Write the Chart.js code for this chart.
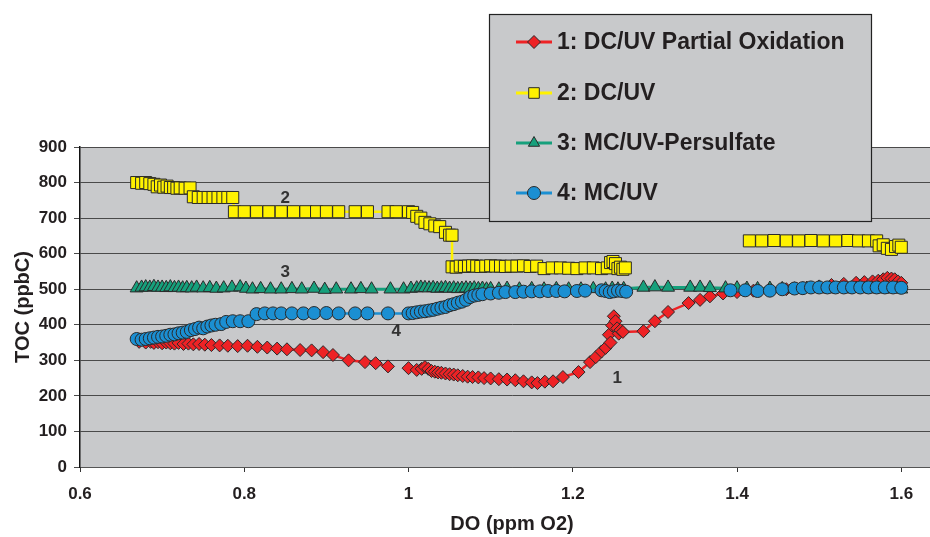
<!DOCTYPE html>
<html lang="en">
<head>
<meta charset="UTF-8">
<title>TOC vs DO</title>
<script src="https://cdn.jsdelivr.net/npm/chart.js"></script>
<style>
  html, body { margin: 0; padding: 0; overflow: hidden; background: #fff; }
</style>
</head>
<body>
<canvas id="chart" width="944" height="537"></canvas>
<script>
// series names (legend)
const seriesNames = ['1: DC/UV Partial Oxidation', '2: DC/UV', '3: MC/UV-Persulfate', '4: MC/UV'];

// 1: DC/UV Partial Oxidation (red diamonds)
const s1x = [0.672,0.680,0.686,0.690,0.695,0.700,0.705,0.710,0.715,0.720,
  0.726,0.732,0.738,0.745,0.752,0.760,0.770,0.780,0.792,0.804,
  0.816,0.828,0.840,0.852,0.868,0.882,0.896,0.908,0.927,0.947,
  0.960,0.975,0.988,1.000,1.010,1.016,1.020,1.024,1.028,1.032,
  1.036,1.040,1.045,1.050,1.055,1.060,1.066,1.072,1.078,1.085,
  1.092,1.100,1.110,1.120,1.130,1.140,1.150,1.157,1.166,1.176,
  1.188,1.207,1.221,1.228,1.235,1.240,1.244,1.246,1.248,1.250,
  1.252,1.254,1.256,1.258,1.261,1.286,1.300,1.316,1.341,1.355,
  1.367,1.383,1.400,1.420,1.440,1.460,1.480,1.500,1.515,1.530,
  1.545,1.555,1.565,1.572,1.578,1.583,1.588,1.592,1.596,1.600];
const s1y = [352,350,352,349,351,348,350,348,347,349,
  346,347,345,346,344,343,342,341,340,341,
  338,336,333,331,329,328,323,315,300,295,
  292,283,null,278,273,276,281,276,270,268,
  266,265,263,261,260,258,256,254,253,252,
  250,249,247,246,244,241,238,236,240,241,
  253,267,295,309,325,335,372,350,398,424,
  410,390,375,385,380,382,410,436,461,470,
  480,488,492,496,498,500,503,508,512,515,
  518,520,522,524,528,532,530,528,522,518];

// 2: DC/UV (yellow squares)
const s2x = [0.669,0.675,0.680,0.685,0.690,0.694,0.698,0.702,0.706,0.710,
  0.714,0.718,0.722,0.728,0.734,0.738,0.744,0.750,0.756,0.762,
  0.768,0.774,0.780,0.786,0.788,0.800,0.815,0.830,0.845,0.860,
  0.875,0.888,0.900,0.915,0.935,0.950,0.975,0.985,1.000,1.005,
  1.010,1.015,1.020,1.026,1.032,1.038,1.045,1.050,1.053,1.053,
  1.058,1.063,1.068,1.073,1.078,1.083,1.088,1.094,1.100,1.106,
  1.112,1.118,1.125,1.132,1.140,1.148,1.156,1.165,1.175,1.185,
  1.195,1.205,1.215,1.225,1.235,1.242,1.246,1.249,1.252,1.255,
  1.258,1.261,1.264,1.264,1.415,1.430,1.445,1.460,1.475,1.490,
  1.505,1.520,1.535,1.548,1.560,1.570,1.573,1.578,1.583,1.588,
  1.593,1.597,1.600];
const s2y = [800,798,800,797,795,788,793,787,790,786,
  786,784,785,784,785,760,758,758,758,758,
  758,758,758,758,718,718,718,718,718,718,
  718,718,718,718,718,718,718,718,718,716,
  705,700,688,684,678,676,660,652,652,563,
  562,565,564,565,566,565,564,565,566,565,
  565,564,565,565,566,564,565,558,560,560,
  559,558,560,560,558,560,575,578,572,558,
  562,556,560,null,636,636,637,636,636,637,
  636,636,637,636,636,636,622,625,615,612,
  620,624,618];

// 3: MC/UV-Persulfate (teal triangles)
const s3x = [0.669,0.675,0.680,0.685,0.690,0.695,0.700,0.705,0.710,0.715,
  0.720,0.725,0.730,0.736,0.742,0.750,0.758,0.766,0.775,0.785,
  0.795,0.802,0.810,0.820,0.832,0.845,0.858,0.870,0.885,0.898,
  0.912,0.930,0.942,0.955,0.978,0.994,1.003,1.010,1.015,1.020,
  1.025,1.030,1.035,1.040,1.045,1.050,1.055,1.060,1.065,1.070,
  1.075,1.080,1.085,1.090,1.095,1.100,1.110,1.120,1.135,1.150,
  1.165,1.180,1.195,1.210,1.225,1.240,1.248,1.255,1.262,1.286,
  1.300,1.316,1.343,1.355,1.367,1.386,1.400,1.412,1.425,1.440,
  1.455,1.470,1.485,1.500,1.512,1.524,1.535,1.545,1.555,1.563,
  1.570,1.577,1.584,1.590,1.595,1.600];
const s3y = [503,505,506,505,507,505,505,504,506,504,
  505,503,504,503,505,503,504,502,503,505,
  506,502,500,501,500,500,501,500,502,499,
  500,500,501,500,500,500,502,503,505,504,
  503,504,502,503,504,502,503,501,502,503,
  502,503,501,502,500,501,500,502,500,501,
  500,501,500,500,501,500,502,500,501,505,
  506,505,505,505,504,503,503,502,501,502,
  501,500,502,501,500,501,500,502,501,500,
  501,500,501,500,502,500];

// 4: MC/UV (blue circles)
const s4x = [0.669,0.675,0.680,0.685,0.690,0.695,0.700,0.705,0.710,0.715,
  0.720,0.725,0.730,0.735,0.740,0.745,0.750,0.755,0.760,0.765,
  0.772,0.778,0.786,0.795,0.805,0.815,0.825,0.835,0.845,0.858,
  0.872,0.885,0.900,0.915,0.935,0.950,0.975,1.000,1.005,1.010,
  1.015,1.020,1.025,1.030,1.035,1.040,1.045,1.050,1.055,1.060,
  1.065,1.070,1.075,1.080,1.085,1.090,1.100,1.110,1.118,1.130,
  1.140,1.150,1.160,1.170,1.180,1.190,1.205,1.215,1.235,1.240,
  1.245,1.250,1.255,1.260,1.265,1.265,1.392,1.410,1.425,1.440,
  1.455,1.470,1.480,1.490,1.500,1.510,1.520,1.530,1.540,1.550,
  1.560,1.570,1.580,1.590,1.600];
const s4y = [360,358,360,362,364,366,367,369,372,373,
  376,378,380,385,388,392,390,395,398,400,
  402,408,410,410,410,430,432,432,432,432,
  432,433,433,432,432,432,432,432,433,435,
  437,438,440,442,445,448,450,455,458,462,
  465,470,478,482,484,486,488,490,492,492,
  493,494,494,495,495,494,495,496,497,495,
  492,494,496,495,493,null,497,497,495,496,
  500,502,503,505,505,505,505,505,505,505,
  505,505,505,505,504];

// curve number labels inside the plot
const curveLabels = ['1', '2', '3', '4'];
const curveLabelX = [1.254, 0.85, 0.85, 0.985];
const curveLabelY = [250, 757, 548, 382];

const xTicks = [0.6, 0.8, 1, 1.2, 1.4, 1.6];

function toPoints(xs, ys) {
  return xs.map((x, i) => ({ x: x, y: ys[i] }));
}

const FONT = '"Liberation Sans", Arial, sans-serif';
const TEXT = '#231f20';

const styles = [
  { color: '#ee2225', shape: 'rectRot', r: 6.5 },
  { color: '#fff200', shape: 'rect', r: 8.5 },
  { color: '#16a07c', shape: 'triangle', r: 7.5 },
  { color: '#1b8fd2', shape: 'circle', r: 6.5 }
];

const allX = [s1x, s2x, s3x, s4x];
const allY = [s1y, s2y, s3y, s4y];

const datasets = seriesNames.map((name, i) => ({
  label: name,
  data: toPoints(allX[i], allY[i]),
  showLine: true,
  spanGaps: false,
  borderColor: styles[i].color,
  backgroundColor: styles[i].color,
  borderWidth: i === 2 ? 3 : 2.5,
  pointStyle: styles[i].shape,
  pointRadius: styles[i].r,
  pointBackgroundColor: styles[i].color,
  pointBorderColor: '#2a2a2a',
  pointBorderWidth: 1,
  order: 4 - i
}));

const plotBg = {
  id: 'plotBg',
  beforeDraw(chart) {
    const { ctx, chartArea: a } = chart;
    ctx.save();
    ctx.fillStyle = '#c8c9cb';
    ctx.fillRect(a.left, a.top, a.right - a.left, a.bottom - a.top);
    ctx.restore();
  }
};

const curveText = {
  id: 'curveText',
  afterDatasetsDraw(chart) {
    const { ctx, scales: { x, y } } = chart;
    ctx.save();
    ctx.font = 'bold 17px ' + FONT;
    ctx.fillStyle = '#333';
    ctx.textAlign = 'center';
    ctx.textBaseline = 'middle';
    curveLabels.forEach((t, i) => {
      ctx.fillText(t, x.getPixelForValue(curveLabelX[i]), y.getPixelForValue(curveLabelY[i]));
    });
    ctx.restore();
  }
};

// boxed legend sitting over the top right of the plot
const boxLegend = {
  id: 'boxLegend',
  afterDraw(chart) {
    const ctx = chart.ctx;
    ctx.save();
    ctx.fillStyle = '#c8c9cb';
    ctx.fillRect(489.5, 14.5, 382, 207);
    ctx.strokeStyle = '#222';
    ctx.lineWidth = 1.2;
    ctx.strokeRect(489.5, 14.5, 382, 207);
    const rows = [42, 93, 143, 193];
    chart.data.datasets.forEach((ds, i) => {
      const yy = rows[i];
      ctx.strokeStyle = ds.borderColor;
      ctx.lineWidth = 3;
      ctx.beginPath();
      ctx.moveTo(516, yy);
      ctx.lineTo(552, yy);
      ctx.stroke();
      ctx.fillStyle = ds.pointBackgroundColor;
      ctx.strokeStyle = '#2a2a2a';
      ctx.lineWidth = 1;
      Chart.helpers.drawPoint(ctx, {
        pointStyle: ds.pointStyle,
        radius: ds.pointStyle === 'rect' ? 7.5 : 6.5,
        rotation: 0,
        borderWidth: 1
      }, 534, yy);
      ctx.fillStyle = TEXT;
      ctx.font = 'bold 23px ' + FONT;
      ctx.textAlign = 'left';
      ctx.textBaseline = 'middle';
      ctx.fillText(ds.label, 557, yy + 1);
    });
    ctx.restore();
  }
};

new Chart(document.getElementById('chart'), {
  type: 'scatter',
  data: { datasets: datasets },
  options: {
    responsive: false,
    animation: false,
    layout: { autoPadding: false, padding: { top: 147, right: 0, left: 0, bottom: 0 } },
    plugins: {
      legend: { display: false },
      tooltip: { enabled: false }
    },
    scales: {
      x: {
        type: 'linear',
        min: 0.6,
        max: 1.652,
        afterBuildTicks: (scale) => { scale.ticks = xTicks.map(v => ({ value: v })); },
        afterFit: (scale) => {
          scale.height = 70;
          scale.paddingLeft = 0;
          scale.paddingRight = 0;
        },
        grid: { drawOnChartArea: false, drawTicks: true, tickLength: 5, color: '#333' },
        border: { color: '#555', width: 1 },
        ticks: {
          padding: 12,
          color: TEXT,
          font: { family: FONT, size: 17, weight: 'bold' },
          callback: (v) => String(v)
        },
        title: {
          display: true,
          text: 'DO (ppm O2)',
          color: TEXT,
          font: { family: FONT, size: 20, weight: 'bold' },
          padding: { top: 0, bottom: 1 }
        }
      },
      y: {
        min: 0,
        max: 900,
        afterFit: (scale) => {
          scale.width = 80;
          scale.paddingTop = 0;
          scale.paddingBottom = 0;
        },
        grid: { color: '#4a4a4a', lineWidth: 1, tickLength: 6 },
        border: { color: '#111', width: 1.5 },
        ticks: {
          stepSize: 100,
          padding: 7,
          color: TEXT,
          font: { family: FONT, size: 17, weight: 'bold' }
        },
        title: {
          display: true,
          text: 'TOC (ppbC)',
          color: TEXT,
          font: { family: FONT, size: 20, weight: 'bold' },
          padding: { top: 11, bottom: 0 }
        }
      }
    }
  },
  plugins: [plotBg, curveText, boxLegend]
});
</script>
</body>
</html>
